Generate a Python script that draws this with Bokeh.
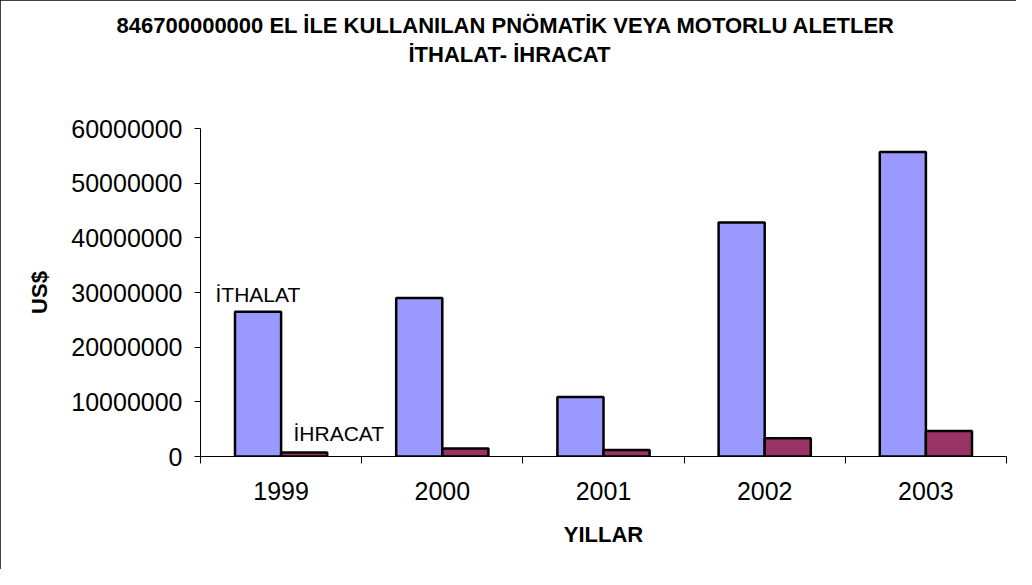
from bokeh.plotting import figure
from bokeh.models import (Range1d, LinearAxis, FixedTicker,
                          BasicTickFormatter, Label, Title, ColumnDataSource)
from bokeh.transform import dodge
from bokeh.embed import file_html
from bokeh.resources import INLINE

# ---- data ----
years = ["1999", "2000", "2001", "2002", "2003"]
ithalat = [26500000, 29000000, 10900000, 42800000, 55700000]
ihracat = [750000, 1450000, 1200000, 3350000, 4650000]
series_names = ["İTHALAT", "İHRACAT"]
y_ticks = [0, 10000000, 20000000, 30000000, 40000000, 50000000, 60000000]
title_lines = ["846700000000 EL İLE KULLANILAN PNÖMATİK VEYA MOTORLU ALETLER",
               "İTHALAT- İHRACAT"]
x_title = "YILLAR"
y_title = "US$"

FONT = "Liberation Sans"
C_ITH = "#9999FF"
C_IHR = "#993366"

n = len(years)
centers = [i + 0.5 for i in range(n)]       # category centres on a 0..n axis

p = figure(width=1016, height=569,
           x_range=Range1d(0, n), y_range=Range1d(0, y_ticks[-1]),
           output_backend="svg", toolbar_location=None,
           x_axis_location=None, y_axis_location="left",
           min_border_left=200, min_border_right=10,
           min_border_top=128, min_border_bottom=113,
           background_fill_color="white", border_fill_color="white")
p.outline_line_color = None
p.grid.grid_line_color = None
p.styles = {"outline": "2px solid black", "outline-offset": "-2px"}

src = ColumnDataSource(dict(x=centers, year=years, ithalat=ithalat, ihracat=ihracat))
p.vbar(x=dodge("x", -0.143), top="ithalat", width=0.286,
       source=src, fill_color=C_ITH, line_color="black", line_width=2.5)
p.vbar(x=dodge("x", 0.143), top="ihracat", width=0.286,
       source=src, fill_color=C_IHR, line_color="black", line_width=2.5)

# y axis
ya = p.yaxis[0]
ya.ticker = FixedTicker(ticks=y_ticks)
ya.formatter = BasicTickFormatter(use_scientific=False)
ya.major_label_text_font = FONT
ya.major_label_text_font_size = "25px"
ya.major_label_text_color = "black"
ya.major_label_standoff = 12
ya.major_tick_out = 6
ya.major_tick_in = 0
ya.minor_tick_line_color = None
ya.axis_line_color = "black"
ya.major_tick_line_color = "black"
ya.axis_label = y_title
ya.axis_label_text_font = FONT
ya.axis_label_text_font_style = "bold"
ya.axis_label_text_font_size = "22px"
ya.axis_label_text_color = "black"
ya.axis_label_standoff = 16

# x axis: boundary ticks, then category labels
tick_axis = LinearAxis(ticker=FixedTicker(ticks=list(range(n + 1))),
                       major_label_text_font_size="0px", major_label_standoff=0,
                       major_tick_out=7, major_tick_in=0,
                       minor_tick_line_color=None,
                       axis_line_color="black", major_tick_line_color="black")
p.add_layout(tick_axis, "below")

cat_axis = LinearAxis(ticker=FixedTicker(ticks=centers),
                      major_label_overrides={c: y for c, y in zip(centers, years)},
                      axis_line_color=None, major_tick_line_color=None,
                      minor_tick_line_color=None, major_tick_out=0, major_tick_in=0,
                      major_label_standoff=18,
                      major_label_text_font=FONT,
                      major_label_text_font_size="25px",
                      major_label_text_color="black",
                      axis_label=x_title, axis_label_text_font=FONT,
                      axis_label_text_font_style="bold",
                      axis_label_text_font_size="22px",
                      axis_label_text_color="black",
                      axis_label_standoff=19)
p.add_layout(cat_axis, "below")

# empty space between plot area and the title: an axis with one white tick
spacer = LinearAxis(ticker=FixedTicker(ticks=[n]), major_label_overrides={n: ""},
                    major_tick_out=61, minor_tick_out=0,
                    major_tick_in=0, minor_tick_in=0, major_label_standoff=0,
                    major_tick_line_color="white", minor_tick_line_color=None,
                    axis_line_color=None)
p.add_layout(spacer, "above")

# title lines (second line nearest the plot)
p.add_layout(Title(text=title_lines[1], align="left", offset=208, standoff=2,
                   text_font=FONT, text_font_style="bold", text_font_size="22px",
                   text_color="black"), "above")
p.add_layout(Title(text=title_lines[0], align="left", offset=-84, standoff=2,
                   text_font=FONT, text_font_style="bold", text_font_size="22px",
                   text_color="black"), "above")

# series name annotations
p.add_layout(Label(x=215, y=294, x_units="canvas", y_units="canvas", text=series_names[0],
                   text_align="left", text_baseline="alphabetic",
                   text_font=FONT, text_font_size="21px", text_color="black"))
p.add_layout(Label(x=293, y=433, x_units="canvas", y_units="canvas", text=series_names[1],
                   text_align="left", text_baseline="alphabetic",
                   text_font=FONT, text_font_size="21px", text_color="black"))

open("out.html", "w").write(file_html(p, INLINE))
